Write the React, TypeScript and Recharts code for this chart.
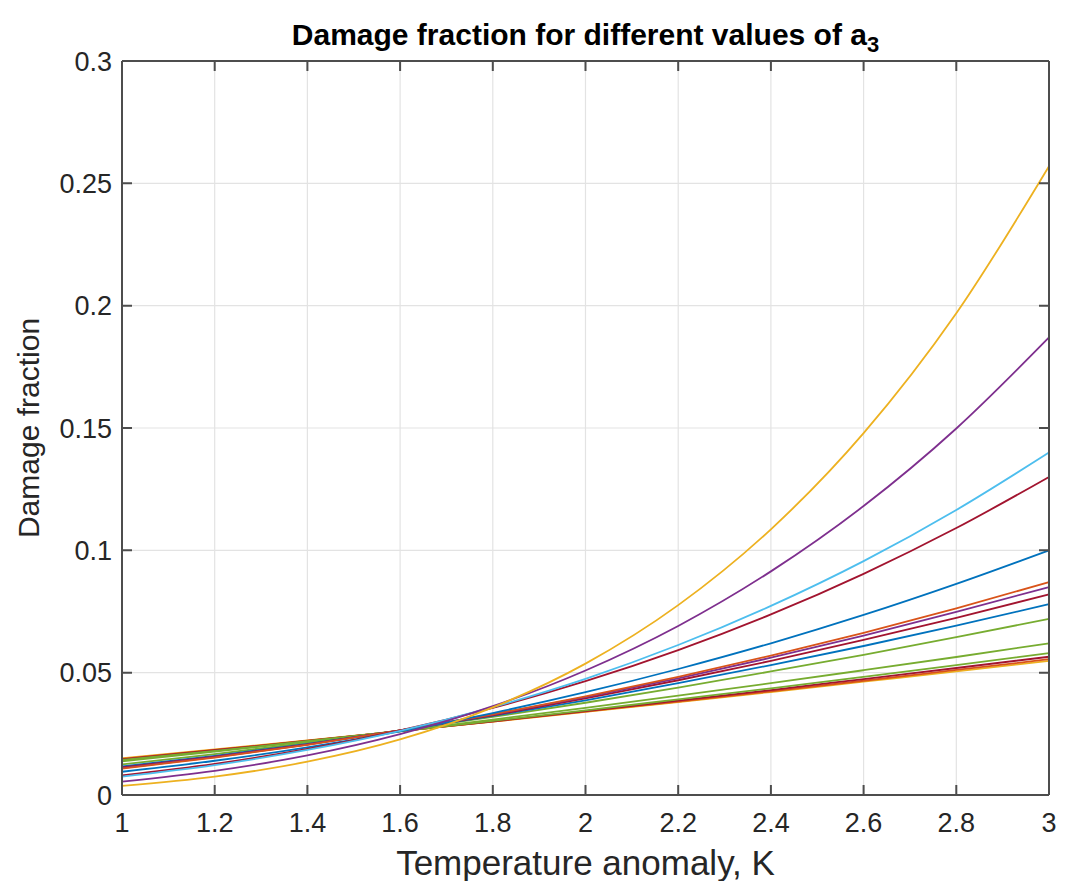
import React from "react";
import { LineChart, Line, XAxis, YAxis, CartesianGrid, ReferenceLine } from "recharts";

// temperature anomaly samples (K)
const temps = [1, 1.2, 1.4, 1.6, 1.8, 2.0, 2.2, 2.4, 2.6, 2.8, 3.0];

// damage fraction curves (top-right to bottom-right)
const yellowHigh = [0.0037, 0.0075, 0.0136, 0.0227, 0.0358, 0.0537, 0.0776, 0.1086, 0.1479, 0.1969, 0.257];
const purpleHigh = [0.0055, 0.0099, 0.0162, 0.0249, 0.0363, 0.0509, 0.0691, 0.0914, 0.1181, 0.1498, 0.187];
const cyanMid = [0.0075, 0.0122, 0.0184, 0.0262, 0.0359, 0.0475, 0.0613, 0.0773, 0.0956, 0.1165, 0.14];
const redMid = [0.008, 0.0127, 0.0188, 0.0264, 0.0356, 0.0465, 0.0592, 0.0738, 0.0904, 0.1091, 0.13];
const blueMid = [0.0095, 0.014, 0.0195, 0.026, 0.0335, 0.042, 0.0515, 0.062, 0.0736, 0.0863, 0.1];
const orangeA = [0.0108, 0.0153, 0.0205, 0.0264, 0.033, 0.0403, 0.0483, 0.057, 0.0663, 0.0763, 0.087];
const purpleA = [0.011, 0.0155, 0.0206, 0.0264, 0.0329, 0.04, 0.0477, 0.0561, 0.0651, 0.0748, 0.085];
const redA = [0.0113, 0.0157, 0.0207, 0.0264, 0.0326, 0.0395, 0.0469, 0.0548, 0.0634, 0.0724, 0.082];
const blueA = [0.0117, 0.016, 0.0209, 0.0263, 0.0323, 0.0387, 0.0457, 0.0531, 0.0609, 0.0692, 0.078];
const greenA = [0.0125, 0.0167, 0.0214, 0.0264, 0.0319, 0.0377, 0.0439, 0.0505, 0.0573, 0.0645, 0.072];
const greenB = [0.0138, 0.0177, 0.0219, 0.0262, 0.0308, 0.0356, 0.0406, 0.0457, 0.051, 0.0564, 0.062];
const greenC = [0.0143, 0.018, 0.022, 0.026, 0.0303, 0.0346, 0.0391, 0.0436, 0.0483, 0.0531, 0.058];
const redLow = [0.0146, 0.0183, 0.0221, 0.0261, 0.0301, 0.0343, 0.0386, 0.0429, 0.0474, 0.0519, 0.0565];
const orangeLow = [0.0148, 0.0184, 0.0222, 0.0261, 0.03, 0.0341, 0.0382, 0.0424, 0.0467, 0.0511, 0.0555];
const yellowLow = [0.015, 0.0186, 0.0223, 0.0261, 0.03, 0.034, 0.038, 0.0421, 0.0463, 0.0505, 0.0548];

const xTicks = [1, 1.2, 1.4, 1.6, 1.8, 2, 2.2, 2.4, 2.6, 2.8, 3];
const yTicks = [0, 0.05, 0.1, 0.15, 0.2, 0.25, 0.3];

// matlab default colour order
const C = {
  blue: "#0072BD",
  orange: "#D95319",
  yellow: "#EDB120",
  purple: "#7E2F8E",
  green: "#77AC30",
  cyan: "#4DBEEE",
  red: "#A2142F",
};

const series = [
  { key: "yellowLow", values: yellowLow, color: C.yellow },
  { key: "orangeLow", values: orangeLow, color: C.orange },
  { key: "redLow", values: redLow, color: C.red },
  { key: "greenC", values: greenC, color: C.green },
  { key: "greenB", values: greenB, color: C.green },
  { key: "greenA", values: greenA, color: C.green },
  { key: "blueA", values: blueA, color: C.blue },
  { key: "redA", values: redA, color: C.red },
  { key: "purpleA", values: purpleA, color: C.purple },
  { key: "orangeA", values: orangeA, color: C.orange },
  { key: "blueMid", values: blueMid, color: C.blue },
  { key: "redMid", values: redMid, color: C.red },
  { key: "cyanMid", values: cyanMid, color: C.cyan },
  { key: "purpleHigh", values: purpleHigh, color: C.purple },
  { key: "yellowHigh", values: yellowHigh, color: C.yellow },
];

const rows = temps.map((t, i) => {
  const row: Record<string, number> = { t };
  series.forEach((s) => (row[s.key] = s.values[i]));
  return row;
});

const FONT = '"Liberation Sans", Arial, Helvetica, sans-serif';
const AXIS = "#4d4d4d";
const TXT = "#262626";

// layout
const W = 1068, H = 881;
const M_TOP = 61, M_RIGHT = 19, X_AXIS_H = 86, Y_AXIS_W = 122;
const PLOT_W = W - Y_AXIS_W - M_RIGHT;
const PLOT_H = H - M_TOP - X_AXIS_H;
const X_DOMAIN = [1, 3];
const Y_DOMAIN = [0, 0.3];
const TICK_LEN = 10;

const fmt = (v: number) => String(+v.toFixed(2));

// pixel positions of the axis ticks, for the inward matlab-style tick marks
const px = (t: number) => Y_AXIS_W + ((t - X_DOMAIN[0]) / (X_DOMAIN[1] - X_DOMAIN[0])) * PLOT_W;
const py = (v: number) => M_TOP + (1 - (v - Y_DOMAIN[0]) / (Y_DOMAIN[1] - Y_DOMAIN[0])) * PLOT_H;

function TickMarks() {
  const bottom = M_TOP + PLOT_H;
  const right = Y_AXIS_W + PLOT_W;
  let d = "";
  xTicks.forEach((t) => {
    const x = px(t);
    d += `M${x},${bottom}V${bottom - TICK_LEN}M${x},${M_TOP}V${M_TOP + TICK_LEN}`;
  });
  yTicks.forEach((v) => {
    const y = py(v);
    d += `M${Y_AXIS_W},${y}H${Y_AXIS_W + TICK_LEN}M${right},${y}H${right - TICK_LEN}`;
  });
  return (
    <svg width={W} height={H} style={{ position: "absolute", left: 0, top: 0, pointerEvents: "none" }}>
      <path d={d} stroke={AXIS} strokeWidth={2} fill="none" />
    </svg>
  );
}

export default function App() {
  return (
    <div style={{ position: "absolute", left: 0, top: 0, width: W, height: H, background: "#fff", fontFamily: FONT }}>
      <div
        style={{
          position: "absolute",
          left: Y_AXIS_W,
          width: PLOT_W,
          top: 18,
          textAlign: "center",
          fontSize: 30,
          fontWeight: "bold",
          color: "#000",
          whiteSpace: "nowrap",
          lineHeight: "34px",
        }}
      >
        Damage fraction for different values of a<sub style={{ fontSize: 22 }}>3</sub>
      </div>
      <LineChart width={W} height={H} data={rows} margin={{ top: M_TOP, right: M_RIGHT, bottom: 0, left: 0 }}>
        <CartesianGrid stroke="#e3e3e3" strokeWidth={1.2} />
        {series.map((s) => (
          <Line
            key={s.key}
            dataKey={s.key}
            type="monotone"
            stroke={s.color}
            strokeWidth={1.8}
            dot={false}
            isAnimationActive={false}
          />
        ))}
        {/* box: top and right edges */}
        <ReferenceLine y={Y_DOMAIN[1]} stroke={AXIS} strokeWidth={2} />
        <ReferenceLine x={X_DOMAIN[1]} stroke={AXIS} strokeWidth={2} />
        <XAxis
          dataKey="t"
          type="number"
          domain={X_DOMAIN}
          ticks={xTicks}
          interval={0}
          tickFormatter={fmt}
          height={X_AXIS_H}
          stroke={AXIS}
          strokeWidth={2}
          tickLine={false}
          tickSize={0}
          tickMargin={18}
          tick={{ fill: TXT, fontSize: 27, fontFamily: FONT }}
          label={{ value: "Temperature anomaly, K", position: "insideBottom", offset: 6, fill: TXT, fontSize: 35, fontFamily: FONT }}
        />
        <YAxis
          type="number"
          domain={Y_DOMAIN}
          ticks={yTicks}
          interval={0}
          tickFormatter={fmt}
          width={Y_AXIS_W}
          stroke={AXIS}
          strokeWidth={2}
          tickLine={false}
          tickSize={0}
          tickMargin={10}
          tick={{ fill: TXT, fontSize: 27, fontFamily: FONT }}
          label={{ value: "Damage fraction", angle: -90, position: "insideLeft", offset: 28, fill: TXT, fontSize: 30, fontFamily: FONT, style: { textAnchor: "middle" } }}
        />
      </LineChart>
      <TickMarks />
    </div>
  );
}
